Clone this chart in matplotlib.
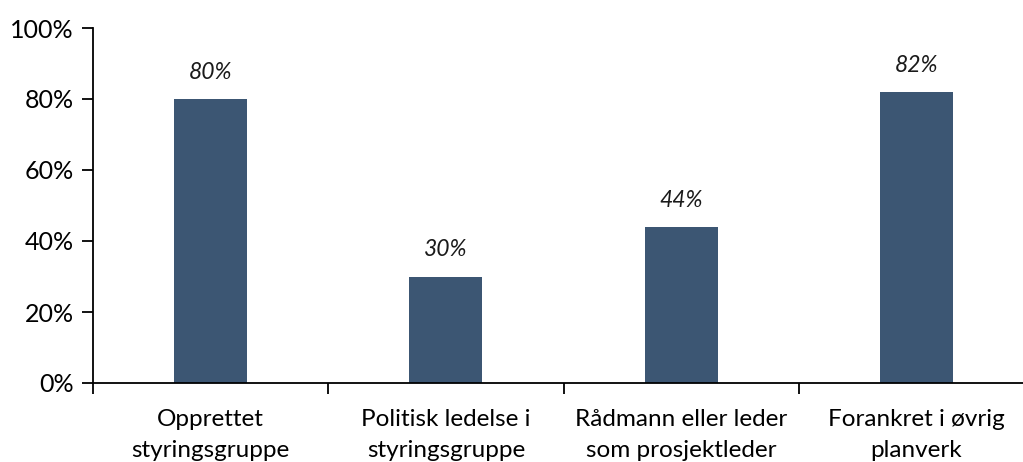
import matplotlib
matplotlib.use("Agg")
import matplotlib.pyplot as plt
from matplotlib.ticker import FixedLocator, NullFormatter

categories = ["Opprettet\nstyringsgruppe", "Politisk ledelse i\nstyringsgruppe",
              "Rådmann eller leder\nsom prosjektleder", "Forankret i øvrig\nplanverk"]
values = [80, 30, 44, 82]
labels = ["80%", "30%", "44%", "82%"]
yticks = [0, 20, 40, 60, 80, 100]

plt.rcParams['font.family'] = ['Lato', 'DejaVu Sans']

W, H = 1023, 462
fig = plt.figure(figsize=(W/100, H/100), dpi=100)
left, right, top, bottom = 93, 1034, 28, 383
ax = fig.add_axes([left/W, 1-bottom/H, (right-left)/W, (bottom-top)/H])

x = range(len(categories))
ax.bar(x, values, width=0.31, color="#3C5673", zorder=2)
for xi, v, lab in zip(x, values, labels):
    ax.annotate(lab, (xi, v), xytext=(0, 20), textcoords="offset pixels",
                ha="center", va="baseline", fontsize=16.5, style="italic", color="#1a1a1a")

ax.set_xlim(-0.5, len(categories)-0.5)
ax.set_ylim(0, 100)
ax.set_yticks(yticks)
ax.set_yticklabels([f"{t}%" for t in yticks], fontsize=18)
ax.xaxis.set_major_locator(FixedLocator([i-0.5 for i in range(len(categories)+1)]))
ax.xaxis.set_major_formatter(NullFormatter())
ax.xaxis.set_minor_locator(FixedLocator(list(x)))
ax.set_xticklabels(categories, minor=True, fontsize=17.5, linespacing=1.55)
ax.tick_params(axis="x", which="minor", length=0, pad=19)
ax.tick_params(axis="x", which="major", length=8, width=1.3, direction="out")
ax.tick_params(axis="y", length=8, width=1.3, direction="out", pad=6)
for s in ["top", "right"]:
    ax.spines[s].set_visible(False)
for s in ["left", "bottom"]:
    ax.spines[s].set_linewidth(1.3)
fig.savefig("out.png", dpi=100)
